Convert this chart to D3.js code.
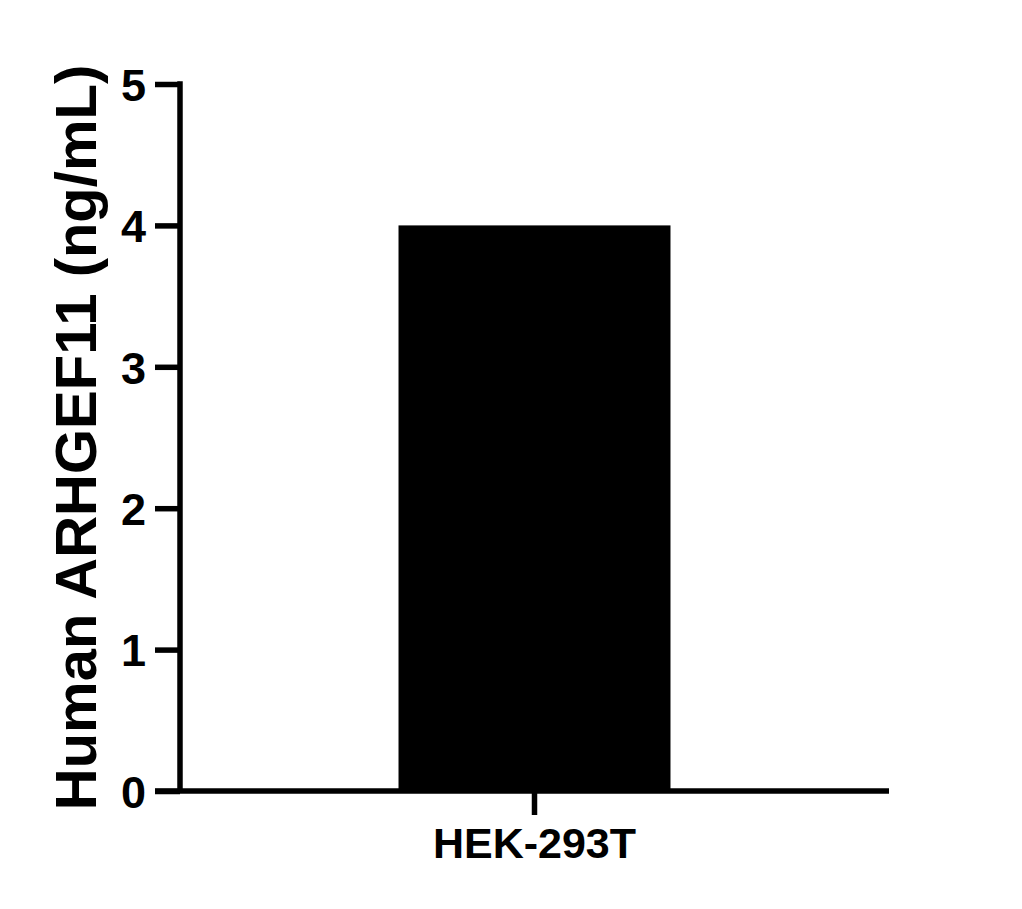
<!DOCTYPE html>
<html>
<head>
<meta charset="utf-8">
<script src="https://cdn.jsdelivr.net/npm/d3@7"></script>
<style>
  html, body { margin: 0; padding: 0; background: #fff; }
  text { font-family: "Liberation Sans", Arial, sans-serif; font-weight: bold; fill: #000; }
</style>
</head>
<body>
<div id="chart"></div>
<script>
// Chart data
const categories = ["HEK-293T"];
const values = [4.0];
const yTicks = [0, 1, 2, 3, 4, 5];
const yLabel = "Human ARHGEF11 (ng/mL)";

/**
 * Draw the single-bar chart
 */
function renderBarChart(container) {
  const width = 1022, height = 909;
  const margin = { left: 180, right: 133, top: 84, bottom: 118 };

  const svg = d3.select(container).append("svg")
    .attr("width", width)
    .attr("height", height);

  const x = d3.scaleBand()
    .domain(categories)
    .range([margin.left, width - margin.right])
    .padding(0.4455);

  const y = d3.scaleLinear()
    .domain([0, 5])
    .range([height - margin.bottom, margin.top]);

  // Bars
  svg.selectAll("rect.bar")
    .data(values)
    .join("rect")
    .attr("class", "bar")
    .attr("x", (d, i) => x(categories[i]))
    .attr("width", x.bandwidth())
    .attr("y", (d) => y(d))
    .attr("height", (d) => y(0) - y(d))
    .attr("fill", "#000");

  // Y axis
  const yAxis = svg.append("g")
    .attr("transform", `translate(${margin.left},0)`)
    .call(d3.axisLeft(y).tickValues(yTicks).tickFormat(d3.format("d")).tickSize(25).tickPadding(9));
  yAxis.select(".domain").attr("stroke-width", 5.5).attr("d", `M0,${y(5) - 2.75}V${y(0)}`);
  yAxis.selectAll(".tick line").attr("stroke-width", 5.5);
  yAxis.selectAll(".tick text").style("font-size", "45px").attr("dy", "0.36em");

  // X axis
  const xAxis = svg.append("g")
    .attr("transform", `translate(0,${y(0)})`)
    .call(d3.axisBottom(x).tickSize(24).tickPadding(12));
  xAxis.select(".domain").attr("stroke-width", 5.5)
    .attr("d", `M${margin.left - 25},0H${width - margin.right}`);
  xAxis.selectAll(".tick line").attr("stroke-width", 5.5);
  xAxis.selectAll(".tick text").style("font-size", "43px");

  // Y axis title
  svg.append("text")
    .attr("transform", `translate(96,${(y(0) + y(5)) / 2}) rotate(-90)`)
    .attr("text-anchor", "middle")
    .style("font-size", "58px")
    .text(yLabel);
}

renderBarChart(document.getElementById("chart"));
</script>
</body>
</html>
